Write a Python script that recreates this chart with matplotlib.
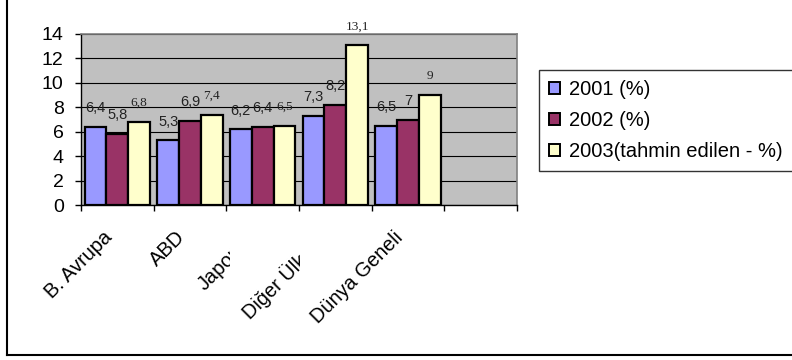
import matplotlib

matplotlib.use("Agg")
import matplotlib.pyplot as plt
from matplotlib.lines import Line2D
from matplotlib.patches import Patch
from matplotlib.transforms import Bbox

# Büyüme oranları (%), bölgelere göre
regions = ["B. Avrupa", "ABD", "Japonya", "Diğer Ülkeler", "Dünya Geneli"]
growth_2001 = [6.4, 5.3, 6.2, 7.3, 6.5]
growth_2002 = [5.8, 6.9, 6.4, 8.2, 7.0]
growth_2003 = [6.8, 7.4, 6.5, 13.1, 9.0]
series_names = ["2001 (%)", "2002 (%)", "2003(tahmin edilen - %)"]
y_ticks = [0, 2, 4, 6, 8, 10, 12, 14]

colors = ["#9999FF", "#993366", "#FFFFCC"]
SANS = ["Liberation Sans", "DejaVu Sans"]
SERIF = ["Liberation Serif", "DejaVu Serif"]

W, H, DPI = 792, 360, 100
fig = plt.figure(figsize=(W / DPI, H / DPI), dpi=DPI)
fig.patch.set_facecolor("white")

# plot area in pixels: x 81..517, y 34..205 (from top)
ax = fig.add_axes([81 / W, (H - 205) / H, (517 - 81) / W, (205 - 34) / H])
ax.set_facecolor("#C0C0C0")
ax.set_axisbelow(True)

n_slots = 6
bar_w = 0.30
series = [growth_2001, growth_2002, growth_2003]
for k, values in enumerate(series):
    xs = [i + (k - 1) * bar_w for i in range(len(values))]
    bars = ax.bar(xs, values, width=bar_w, color=colors[k], edgecolor="black", linewidth=1.6, zorder=3)
    fam = SERIF if k == 2 else SANS
    size = 9.6 if k == 2 else 10.5
    for rect, v in zip(bars, values):
        text = f"{v:g}".replace(".", ",")
        ax.annotate(
            text,
            xy=(rect.get_x() + rect.get_width() / 2, v),
            xytext=(0, 13.5),
            textcoords="offset points",
            ha="center",
            va="center",
            fontsize=size,
            family=fam,
            color="#222222",
            zorder=4,
            annotation_clip=False,
        )

ax.set_xlim(-0.5, n_slots - 0.5)
ax.set_ylim(0, 14)
ax.set_yticks(y_ticks)
ax.set_yticklabels([str(t) for t in y_ticks], family=SANS, fontsize=14)
ax.set_xticks([i - 0.5 for i in range(n_slots + 1)])
ax.set_xticklabels([])
ax.tick_params(axis="both", direction="out", length=4.5, width=1, color="black")
ax.tick_params(axis="y", pad=8)
ax.yaxis.grid(True, color="black", linewidth=0.8)

for side in ("top", "right"):
    ax.spines[side].set_color("#808080")
    ax.spines[side].set_linewidth(1.2)
for side in ("left", "bottom"):
    ax.spines[side].set_color("black")
    ax.spines[side].set_linewidth(1.0)

# kategori etiketleri, 45 derece; uzun olanlar bir sonraki sütunda kesiliyor
clip_right = {2: 230, 3: 300}
for i, name in enumerate(regions):
    t = ax.annotate(
        name,
        xy=(i, 0),
        xycoords=("data", "axes fraction"),
        xytext=(-6, -21),
        textcoords="offset points",
        rotation=45,
        rotation_mode="anchor",
        ha="right",
        va="center",
        fontsize=14.4,
        family=SANS,
        color="black",
        annotation_clip=False,
    )
    if i in clip_right:
        t.set_clip_on(True)
        t.set_clip_box(Bbox.from_extents(0, 0, clip_right[i], H))

handles = [Patch(facecolor=c, edgecolor="black", linewidth=1.4) for c in colors]
leg = fig.legend(
    handles,
    series_names,
    loc="upper left",
    bbox_to_anchor=(539 / W, 0.5, 0.45, (H - 70) / H - 0.5),
    mode="expand",
    borderaxespad=0,
    frameon=True,
    fancybox=False,
    shadow=False,
    prop={"family": SANS, "size": 14.5},
    handlelength=0.55,
    handleheight=0.55,
    handletextpad=0.45,
    labelspacing=0.6,
    borderpad=0.5,
)
leg.get_frame().set_edgecolor("black")
leg.get_frame().set_linewidth(1.0)

# dış çerçeve (sol ve alt kenar)
fig.add_artist(Line2D([7 / W, 7 / W], [5 / H, 1], transform=fig.transFigure, color="black", linewidth=1.5))
fig.add_artist(Line2D([7 / W, 1], [5 / H, 5 / H], transform=fig.transFigure, color="black", linewidth=1.5))

fig.savefig("out.png", dpi=DPI)
